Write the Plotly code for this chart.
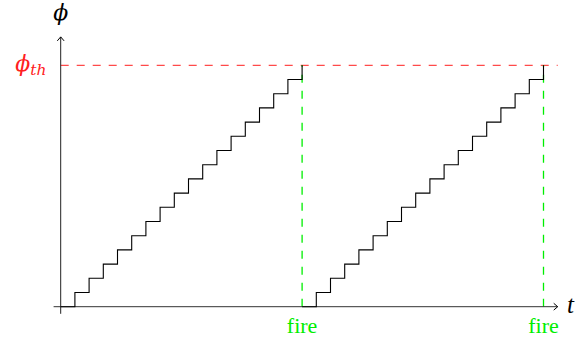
import plotly.graph_objects as go

# Integrate-and-fire potential: staircase rises one level per time step
ramp1_t = [0, 1, 2, 3, 4, 5, 6, 7, 8, 9, 10, 11, 12, 13, 14, 15, 16, 17]
ramp2_t = [17, 18, 19, 20, 21, 22, 23, 24, 25, 26, 27, 28, 29, 30, 31, 32, 33, 34]
phi_levels = [0, 1, 2, 3, 4, 5, 6, 7, 8, 9, 10, 11, 12, 13, 14, 15, 16, 17]
phi_th = 17
fire_times = [17, 34]
t_axis_end = 35
phi_axis_end = 19

U = 14.2          # pixels per unit
ox, oy = 60.7, 306.7  # origin in pixels
W, H = 585, 346

fig = go.Figure()

# threshold line
fig.add_trace(go.Scatter(x=[0, t_axis_end], y=[phi_th, phi_th], mode="lines",
                         line=dict(color="#ff4a4a", width=1.2, dash="8px,8px"),
                         hoverinfo="skip"))
# firing events
for ft in fire_times:
    fig.add_trace(go.Scatter(x=[ft, ft], y=[0, phi_th], mode="lines",
                             line=dict(color="#00ee00", width=1.3, dash="8px,8px"),
                             hoverinfo="skip"))

# axes
fig.add_trace(go.Scatter(x=[-0.5, t_axis_end], y=[0, 0], mode="lines",
                         line=dict(color="#333333", width=1), hoverinfo="skip"))
fig.add_trace(go.Scatter(x=[0, 0], y=[-0.5, phi_axis_end], mode="lines",
                         line=dict(color="#222222", width=1), hoverinfo="skip"))
# arrow tips
fig.add_trace(go.Scatter(x=[t_axis_end - 0.28, t_axis_end, t_axis_end - 0.28],
                         y=[0.24, 0, -0.24], mode="lines",
                         line=dict(color="black", width=1), hoverinfo="skip"))
fig.add_trace(go.Scatter(x=[-0.24, 0, 0.24],
                         y=[phi_axis_end - 0.28, phi_axis_end, phi_axis_end - 0.28],
                         mode="lines", line=dict(color="black", width=1),
                         hoverinfo="skip"))

# potential staircases
for ts in (ramp1_t, ramp2_t):
    fig.add_trace(go.Scatter(x=ts, y=phi_levels, mode="lines", line_shape="hv",
                             line=dict(color="black", width=1.1), hoverinfo="skip"))

# axis and threshold labels
fig.add_trace(go.Scatter(
    x=[0, -2.1], y=[20.6, phi_th], mode="text",
    text=["<i>ϕ</i>", "<i>ϕ<sub>th</sub></i>"],
    textposition="middle center",
    textfont=dict(family="DejaVu Serif", size=22, color=["black", "#ff2020"]),
    hoverinfo="skip"))
fig.add_trace(go.Scatter(
    x=[35.9], y=[0], mode="text", text=["<i>t</i>"],
    textposition="middle center",
    textfont=dict(family="Liberation Serif", size=25, color="black"),
    hoverinfo="skip"))
fig.add_trace(go.Scatter(
    x=fire_times, y=[-1.45] * len(fire_times), mode="text",
    text=["fire"] * len(fire_times), textposition="middle center",
    textfont=dict(family="Liberation Serif", size=22, color="#00ee00"),
    hoverinfo="skip"))

fig.update_layout(
    width=W, height=H, margin=dict(l=0, r=0, t=0, b=0),
    paper_bgcolor="white", plot_bgcolor="white", showlegend=False,
    font=dict(family="Liberation Serif"),
    xaxis=dict(range=[-ox / U, (W - ox) / U], visible=False),
    yaxis=dict(range=[-(H - oy) / U, oy / U], visible=False),
)

fig.write_html("out.html")
